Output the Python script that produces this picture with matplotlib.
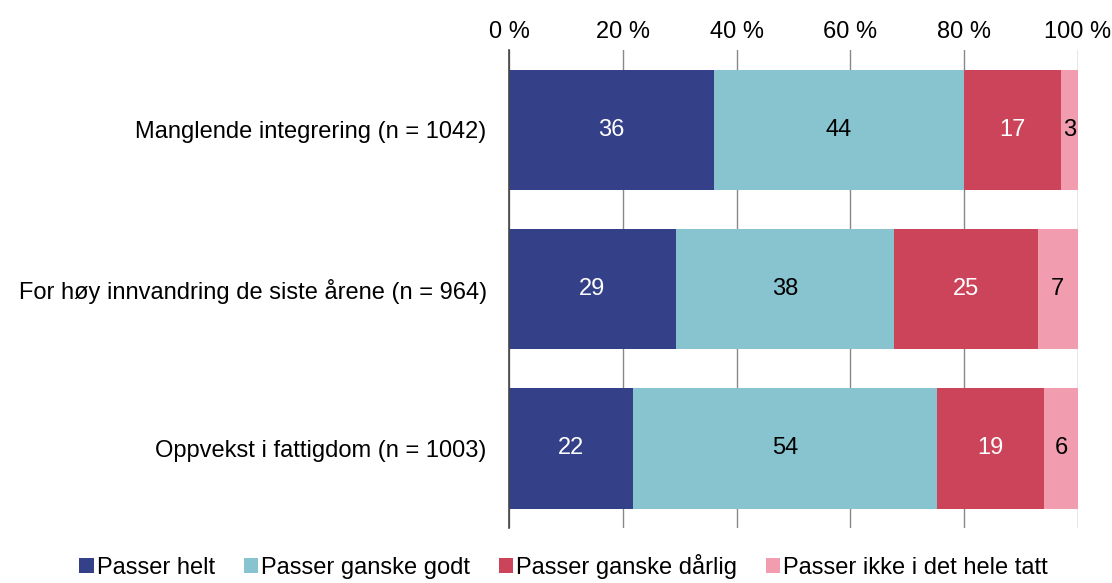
import matplotlib
matplotlib.use("Agg")
import matplotlib.pyplot as plt
import numpy as np

plt.rcParams['font.family'] = ['Liberation Sans', 'DejaVu Sans']

categories = ["Manglende integrering (n = 1042)",
              "For høy innvandring de siste årene (n = 964)",
              "Oppvekst i fattigdom (n = 1003)"]
series = ["Passer helt", "Passer ganske godt", "Passer ganske dårlig",
          "Passer ikke i det hele tatt"]
values = [
    [36, 29, 22],
    [44, 38, 54],
    [17, 25, 19],
    [3, 7, 6],
]
colors = ["#344189", "#88C4CF", "#CC4459", "#F29CB0"]
text_colors = ["white", "black", "white", "black"]

data = np.array(values, dtype=float)
totals = data.sum(axis=0)
shares = data / totals * 100

fig = plt.figure(figsize=(11.12, 5.83), dpi=100)
ax = fig.add_axes([0.4577, 0.0943, 0.5117, 0.8197])

fs = 17
y = np.arange(len(categories))
left = np.zeros(len(categories))
for i, name in enumerate(series):
    bars = ax.barh(y, shares[i], left=left, height=0.755, color=colors[i],
                   label=name, zorder=2)
    for j, b in enumerate(bars):
        ax.text(left[j] + shares[i][j] / 2, y[j], str(int(values[i][j])),
                ha="center", va="center", fontsize=fs, color=text_colors[i],
                zorder=3)
    left += shares[i]

ax.set_xlim(0, 100)
ax.set_ylim(2.5, -0.5)
ax.set_yticks(y)
ax.set_yticklabels(categories, fontsize=fs)
ax.set_xticks(np.arange(0, 101, 20))
ax.set_xticklabels([f"{v} %" for v in range(0, 101, 20)], fontsize=fs)
ax.xaxis.tick_top()
ax.tick_params(axis="x", length=0, pad=5)
ax.tick_params(axis="y", length=0, pad=16)
ax.grid(axis="x", color="#888888", linewidth=1, zorder=0)
for s in ["top", "right", "bottom"]:
    ax.spines[s].set_visible(False)
ax.spines["left"].set_color("#444444")
ax.spines["left"].set_linewidth(1.2)

fig.legend(loc="lower center", bbox_to_anchor=(0.507, -0.03), ncol=4,
           frameon=False, fontsize=fs, handlelength=0.6, handleheight=0.6,
           handletextpad=0.15, columnspacing=1.2)

fig.savefig("out.png", dpi=100)
